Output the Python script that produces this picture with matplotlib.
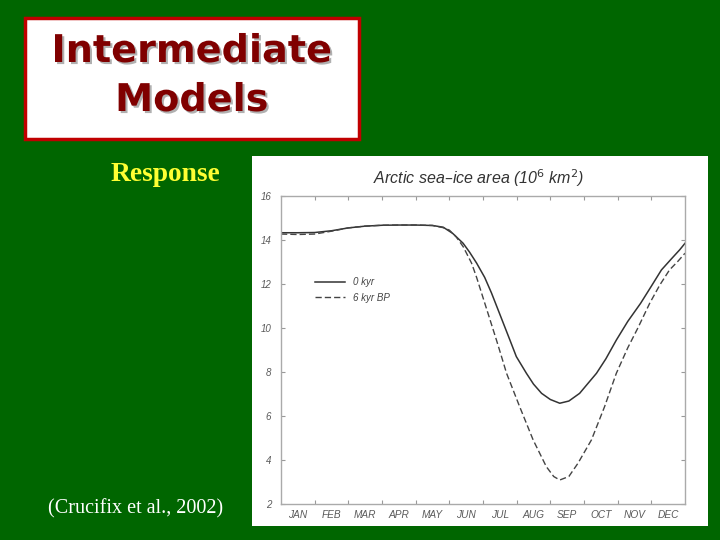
import matplotlib
matplotlib.use("Agg")
import matplotlib.pyplot as plt
from matplotlib.patches import Rectangle
import matplotlib.patheffects as pe

# ---- data ----
months = ["JAN", "FEB", "MAR", "APR", "MAY", "JUN", "JUL", "AUG", "SEP", "OCT", "NOV", "DEC"]
yticks = [2, 4, 6, 8, 10, 12, 14, 16]

t_0kyr = [0.0, 0.5, 1.0, 1.5, 2.0, 2.5, 3.0, 3.5, 4.0, 4.5, 4.82, 5.1, 5.41, 5.6, 5.81,
          6.05, 6.25, 6.45, 6.8, 6.99, 7.29, 7.5, 7.74, 8.0, 8.28, 8.55, 8.87, 9.1,
          9.37, 9.65, 9.96, 10.3, 10.68, 11.0, 11.3, 11.6, 11.84, 12.0]
v_0kyr = [14.33, 14.33, 14.34, 14.42, 14.55, 14.63, 14.67, 14.68, 14.68, 14.66, 14.58,
          14.3, 13.85, 13.45, 12.95, 12.3, 11.6, 10.82, 9.45, 8.7, 7.94, 7.45, 7.03,
          6.75, 6.58, 6.68, 7.03, 7.45, 7.94, 8.6, 9.45, 10.3, 11.12, 11.9, 12.64,
          13.15, 13.55, 13.85]

t_6kyr = [0.0, 0.5, 1.0, 1.5, 2.0, 2.5, 3.0, 3.5, 4.0, 4.5, 4.82, 5.0, 5.2, 5.41, 5.66,
          5.81, 6.1, 6.4, 6.55, 6.7, 7.09, 7.49, 7.88, 8.1, 8.28, 8.55, 8.82, 9.22,
          9.61, 9.96, 10.3, 10.6, 10.95, 11.25, 11.54, 11.8, 12.0]
v_6kyr = [14.27, 14.25, 14.27, 14.4, 14.55, 14.63, 14.67, 14.68, 14.68, 14.66, 14.56,
          14.45, 14.15, 13.7, 12.95, 12.3, 10.9, 9.45, 8.7, 7.94, 6.42, 4.91, 3.7,
          3.25, 3.09, 3.25, 3.85, 4.91, 6.42, 7.94, 9.1, 10.0, 11.12, 11.95, 12.64,
          13.05, 13.4]

W, H = 720, 540
fig = plt.figure(figsize=(7.2, 5.4), dpi=100)
fig.patch.set_facecolor("#006600")

def fx(px):
    return px / W

def fy(py):
    return 1 - py / H

# title box
fig.patches.append(Rectangle((fx(25), fy(139)), fx(334), 121 / H, transform=fig.transFigure,
                             facecolor="white", edgecolor="#c00000", linewidth=2.5, zorder=-3))
shadow = [pe.withSimplePatchShadow(offset=(1.5, -1.5), shadow_rgbFace="#b0b0b0", alpha=1.0)]
for txt, base in (("Intermediate", 62), ("Models", 111)):
    fig.text(fx(192), fy(base), txt, ha="center", va="baseline", fontsize=27.5,
             fontweight="bold", family="DejaVu Sans", color="#800000", zorder=-1,
             path_effects=shadow)

fig.text(fx(165), fy(181), "Response", ha="center", va="baseline", fontsize=19.8,
         fontweight="bold", family="Liberation Serif", color="#ffff33")
fig.text(fx(135.5), fy(513), "(Crucifix et al., 2002)", ha="center", va="baseline",
         fontsize=14.5, family="Liberation Serif", color="white")

# white panel
fig.patches.append(Rectangle((fx(252), fy(526)), 456 / W, 370 / H, transform=fig.transFigure,
                             facecolor="white", edgecolor="none", zorder=-3))

ax = fig.add_axes([fx(281), fy(504), 404 / W, 308 / H])
ax.set_zorder(2)
ax.set_facecolor("white")
ax.plot(t_0kyr, v_0kyr, color="#333333", lw=1.1, label="0 kyr")
ax.plot(t_6kyr, v_6kyr, color="#444444", lw=1.0, dashes=(4.5, 2.2), label="6 kyr BP")

ax.set_xlim(0, 12)
ax.set_ylim(2, 16)
ax.set_yticks(yticks)
ax.set_yticklabels([str(v) for v in yticks], fontsize=7, style="italic", color="#5a5a5a",
                   family="Liberation Sans")
ax.set_xticks(range(1, 12))
ax.set_xticklabels([])
ax.set_xticks([i + 0.5 for i in range(12)], minor=True)
ax.set_xticklabels(months, minor=True, fontsize=7.3, style="italic", color="#5a5a5a",
                   family="Liberation Sans")
ax.tick_params(axis="x", which="minor", length=0, pad=4)
ax.tick_params(axis="both", which="major", direction="in", length=3, width=0.8,
               color="#999999", top=True, right=True)
ax.tick_params(axis="y", pad=7)
for s in ax.spines.values():
    s.set_color("#aaaaaa")
    s.set_linewidth(1.0)

ax.text(0.49, 1.04, "Arctic sea\u2013ice area (10$^6$ km$^2$)", transform=ax.transAxes,
        ha="center", va="baseline", fontsize=11.5, style="italic", color="#333333",
        family="Liberation Sans")

leg = ax.legend(loc="upper left", bbox_to_anchor=(0.085, 0.737), frameon=False,
                handlelength=3.1, handletextpad=0.8, labelspacing=0.6,
                borderpad=0, borderaxespad=0,
                prop={"style": "italic", "family": "Liberation Sans", "size": 7})
for txt in leg.get_texts():
    txt.set_color("#444444")

fig.savefig("out.png", dpi=100, facecolor=fig.get_facecolor())
